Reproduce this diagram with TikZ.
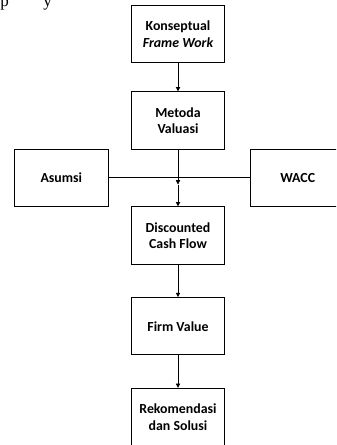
\documentclass[tikz,border=0pt]{standalone}
\usepackage{fontspec}
\setmainfont{Liberation Serif}
\newfontfamily\boxfont{Carlito}
\usetikzlibrary{arrows.meta}
\begin{document}
\begin{tikzpicture}[x=0.75pt,y=-0.75pt,
  flowbox/.style={draw, line width=0.75pt, minimum width=69.5pt, minimum height=43pt,
    inner sep=0pt, align=center, font=\boxfont\bfseries\fontsize{10.4pt}{12.4pt}\selectfont},
  flowarrow/.style={line width=0.6pt, -{Triangle[width=3.2pt,length=3.2pt]}},
  flowline/.style={line width=0.6pt}]
\useasboundingbox (0,0) rectangle (336,445);
\clip (0,0) rectangle (336,445);
% page text fragments at the top
\node[anchor=base west, inner sep=0pt, font=\fontsize{12.8pt}{14pt}\selectfont] (fragp) at (0,6.5) {p};
\node[anchor=base west, inner sep=0pt, font=\fontsize{12.8pt}{14pt}\selectfont] (fragy) at (43,6.5) {y};
% boxes
\node[flowbox] (konsep) at (178,34) {Konseptual\\\itshape Frame Work};
\node[flowbox] (metoda) at (178,120.5) {Metoda\\Valuasi};
\node[flowbox, minimum width=70.5pt] (asumsi) at (61.3,177.9) {Asumsi};
\node[flowbox, minimum width=70.5pt] (wacc) at (297.7,177.9) {WACC};
\node[flowbox] (dcf) at (178,235.5) {Discounted\\Cash Flow};
\node[flowbox] (firm) at (178,326.2) {Firm Value};
\node[flowbox] (rekom) at (178,417) {Rekomendasi\\dan Solusi};
% connectors
\coordinate (junc) at (178,184.5);
\draw[flowarrow] (konsep) -- (metoda);
\draw[flowline] (asumsi.east) -- (wacc.west);
\draw[flowarrow] (metoda) -- (junc);
\draw[flowarrow] (junc) -- (dcf);
\draw[flowarrow] (dcf) -- (firm);
\draw[flowarrow] (firm) -- (rekom);
\end{tikzpicture}
\end{document}
